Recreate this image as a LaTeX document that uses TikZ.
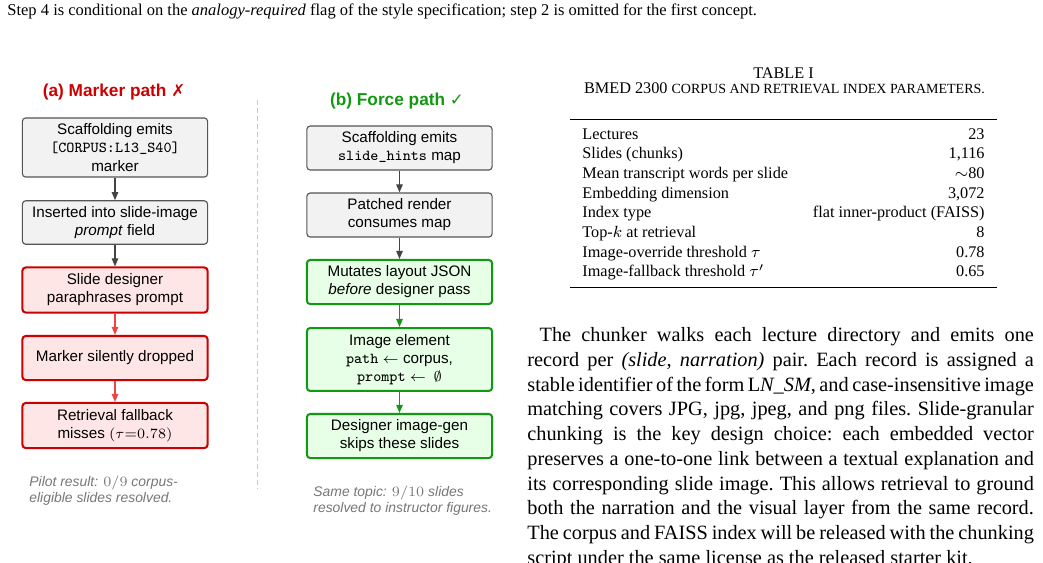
\documentclass[tikz,border=0pt]{standalone}
\usepackage{fontspec}
\setmainfont{Liberation Serif}
\setsansfont{Liberation Sans}
\newfontfamily\symfont{DejaVu Sans}
\usetikzlibrary{arrows.meta}
\definecolor{boxgray}{HTML}{F2F2F2}
\definecolor{bordergray}{HTML}{555555}
\definecolor{arrowgray}{HTML}{444444}
\definecolor{redfill}{HTML}{FFE6E6}
\definecolor{redborder}{HTML}{CC0000}
\definecolor{redarrow}{HTML}{EE4444}
\definecolor{greenfill}{HTML}{E6FFE6}
\definecolor{greenborder}{HTML}{119911}
\definecolor{captiongray}{HTML}{777777}
\definecolor{sepgray}{HTML}{C8C8C8}
\tikzset{
  flowbox/.style={rounded corners=1.6pt, minimum width=91.2pt, inner sep=0pt, align=center,
    font=\sffamily\fontsize{7.5}{8.9}\selectfont},
  graybox/.style={flowbox, fill=boxgray, draw=bordergray, line width=0.55pt},
  redbox/.style={flowbox, fill=redfill, draw=redborder, line width=1pt},
  greenbox/.style={flowbox, fill=greenfill, draw=greenborder, line width=1pt},
  grayarrow/.style={draw=arrowgray, line width=0.6pt, -{Triangle[length=4pt,width=3.2pt]}},
  redarr/.style={draw=redarrow, line width=0.6pt, -{Triangle[length=4pt,width=3.2pt]}},
  greenarr/.style={draw=greenborder, line width=0.6pt, -{Triangle[length=4pt,width=3.2pt]}},
  paneltitle/.style={inner sep=0pt, anchor=base, font=\sffamily\bfseries\fontsize{8.5}{10}\selectfont},
  panelcaption/.style={inner sep=0pt, anchor=base west, align=left, text=captiongray,
    font=\sffamily\itshape\fontsize{6.85}{7.4}\selectfont},
  tabcell/.style={inner sep=0pt, font=\fontsize{8}{9.7}\selectfont},
  tabrule/.style={line width=0.8pt}
}
\begin{document}
\begin{tikzpicture}[x=0.4926pt, y=-0.4926pt]
\useasboundingbox (0,0) rectangle (1043,562);
\fill[white] (0,0) rectangle (1043,562);

% top caption line
\node[inner sep=0pt, anchor=base west, font=\fontsize{8.13}{9.5}\selectfont] (capline) at (7,15.5)
  {Step 4 is conditional on the \textit{analogy-required} flag of the style specification; step 2 is omitted for the first concept.};

% ---------- panel (a)
\node[paneltitle, text=redborder] (atitle) at (114,96) {(a) Marker path {\symfont\fontsize{8.2}{10}\selectfont ✗}};
\node[graybox, minimum height=29.1pt] (a1) at (115,147.5)
  {Scaffolding emits\\ \texttt{[CORPUS:L13\_S40]}\\ marker};
\node[graybox, minimum height=21.4pt] (a2) at (115,222.5)
  {Inserted into slide-image\\ \textit{prompt} field};
\node[redbox, minimum height=22.2pt] (a3) at (115,290)
  {Slide designer\\ paraphrases prompt};
\node[redbox, minimum height=21.7pt] (a4) at (115,358)
  {Marker silently dropped};
\node[redbox, minimum height=22.2pt] (a5) at (115,425.5)
  {Retrieval fallback\\ misses $(\tau{=}0.78)$};
\draw[grayarrow] (a1) -- (a2);
\draw[grayarrow] (a2) -- (a3);
\draw[redarr] (a3) -- (a4);
\draw[redarr] (a4) -- (a5);
\node[panelcaption] (acap) at (29,502) {Pilot result: $0/9$ corpus-\\eligible slides resolved.};

% separator
\coordinate (septop) at (257.5,100);
\coordinate (sepbot) at (257.5,488);
\draw[sepgray, line width=0.9pt, dash pattern=on 2.4pt off 1.5pt] (septop) -- (sepbot);

% ---------- panel (b)
\node[paneltitle, text=greenborder] (btitle) at (397,105) {(b) Force path {\symfont\fontsize{8.2}{10}\selectfont ✓}};
\node[graybox, minimum height=21.7pt] (b1) at (399.5,148)
  {Scaffolding emits\\ \texttt{slide\_hints} map};
\node[graybox, minimum height=21.7pt] (b2) at (399.5,215)
  {Patched render\\ consumes map};
\node[greenbox, minimum height=21.7pt] (b3) at (399.5,282)
  {Mutates layout JSON\\ \textit{before} designer pass};
\node[greenbox, minimum height=31pt] (b4) at (399.5,359.5)
  {Image element\\ \texttt{path} $\leftarrow$ corpus,\\ \texttt{prompt} $\leftarrow$\enspace$\emptyset$};
\node[greenbox, minimum height=21.7pt] (b5) at (399.5,436)
  {Designer image-gen\\ skips these slides};
\draw[grayarrow] (b1) -- (b2);
\draw[grayarrow] (b2) -- (b3);
\draw[greenarr] (b3) -- (b4);
\draw[greenarr] (b4) -- (b5);
\node[panelcaption] (bcap) at (313,512) {Same topic: $9/10$ slides\\resolved to instructor figures.};

% ---------- table
\node[inner sep=0pt, anchor=base, font=\fontsize{8}{9.5}\selectfont] (ttitle) at (783.5,78) {TABLE I};
\node[inner sep=0pt, anchor=base, font=\fontsize{8}{9.5}\selectfont] (tcap) at (784.5,93)
  {BMED 2300 {\fontsize{6.9}{9.5}\selectfont CORPUS AND RETRIEVAL INDEX PARAMETERS.}};
\coordinate (rtl) at (570,119.5); \coordinate (rtr) at (997,119.5);
\coordinate (rbl) at (570,287.5); \coordinate (rbr) at (997,287.5);
\draw[tabrule] (rtl) -- (rtr);
\draw[tabrule] (rbl) -- (rbr);
\node[tabcell, anchor=base west] (l1) at (582,139) {Lectures};
\node[tabcell, anchor=base east] (r1) at (985,139) {23};
\node[tabcell, anchor=base west] (l2) at (582,158.7) {Slides (chunks)};
\node[tabcell, anchor=base east] (r2) at (985,158.7) {1,116};
\node[tabcell, anchor=base west] (l3) at (582,178.4) {Mean transcript words per slide};
\node[tabcell, anchor=base east] (r3) at (985,178.4) {$\sim$80};
\node[tabcell, anchor=base west] (l4) at (582,198.1) {Embedding dimension};
\node[tabcell, anchor=base east] (r4) at (985,198.1) {3,072};
\node[tabcell, anchor=base west] (l5) at (582,217.8) {Index type};
\node[tabcell, anchor=base east] (r5) at (985,217.8) {flat inner-product (FAISS)};
\node[tabcell, anchor=base west] (l6) at (582,237.5) {Top-$k$ at retrieval};
\node[tabcell, anchor=base east] (r6) at (985,237.5) {8};
\node[tabcell, anchor=base west] (l7) at (582,257.2) {Image-override threshold $\tau$};
\node[tabcell, anchor=base east] (r7) at (985,257.2) {0.78};
\node[tabcell, anchor=base west] (l8) at (582,276.9) {Image-fallback threshold $\tau'$};
\node[tabcell, anchor=base east] (r8) at (985,276.9) {0.65};

% ---------- body paragraph
\node[inner sep=0pt, anchor=base west] (body) at (527,341.5)
  {\parbox[t]{249.5pt}{\fontsize{10}{12.2}\selectfont\frenchspacing\hspace*{6pt}The chunker walks each lecture directory and emits one\linebreak
  record per \textit{(slide, narration)} pair. Each record is assigned a\linebreak
  stable identifier of the form L\textit{N\_SM}, and case-insensitive image\linebreak
  matching covers JPG, jpg, jpeg, and png files. Slide-granular\linebreak
  chunking is the key design choice: each embedded vector\linebreak
  preserves a one-to-one link between a textual explanation and\linebreak
  its corresponding slide image. This allows retrieval to ground\linebreak
  both the narration and the visual layer from the same record.\linebreak
  The corpus and FAISS index will be released with the chunking\linebreak
  script under the same license as the released starter kit.}};
\end{tikzpicture}
\end{document}
